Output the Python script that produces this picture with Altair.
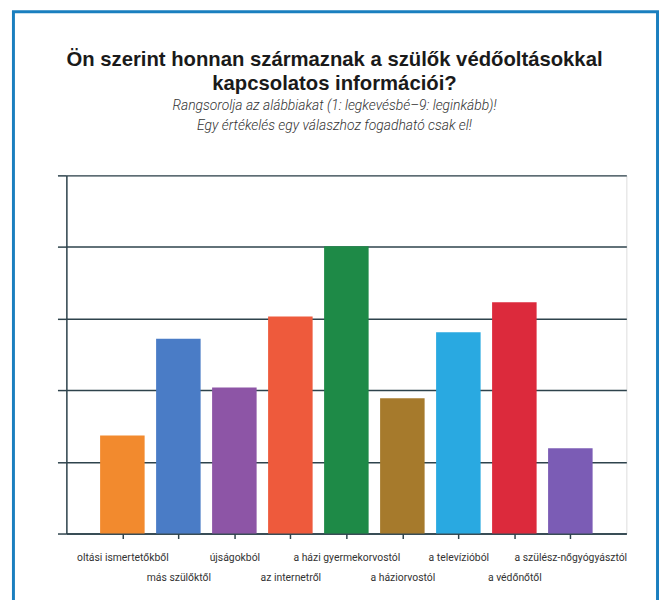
import altair as alt
import pandas as pd

categories = [
    "oltási ismertetőkből",
    "más szülőktől",
    "újságokból",
    "az internetről",
    "a házi gyermekorvostól",
    "a háziorvostól",
    "a televízióból",
    "a védőnőtől",
    "a szülész-nőgyógyásztól",
]
values = [1.37, 2.72, 2.04, 3.03, 4.01, 1.89, 2.81, 3.23, 1.19]
colors = ["#f28a2e", "#4a7cc6", "#8d55a6", "#ee5a3c", "#1e8a47",
          "#a67a2c", "#29a9e1", "#dc2a3c", "#7b5cb5"]
y_ticks = [0, 1, 2, 3, 4, 5]

title_lines = ["Ön szerint honnan származnak a szülők védőoltásokkal",
               "kapcsolatos információi?"]
subtitle_lines = ["Rangsorolja az alábbiakat (1: legkevésbé–9: leginkább)!",
                  "Egy értékelés egy válaszhoz fogadható csak el!"]

df = pd.DataFrame({"cat": categories, "value": values})

dark = "#2e434c"

bars = alt.Chart(df).mark_bar(size=45).encode(
    x=alt.X("cat:N", sort=categories,
            scale=alt.Scale(type="point", padding=1),
            axis=alt.Axis(title=None, labelAngle=0, grid=False,
                          labelExpr="round(datum.index*8) % 2 == 1 ? ['', datum.label] : datum.label",
                          labelLineHeight=20, labelFont="Roboto", labelFontSize=10.5,
                          labelColor="#333333", labelOverlap=False, labelBound=False,
                          labelPadding=14, tickSize=5, tickColor=dark, tickWidth=1.5,
                          domainColor=dark, domainWidth=1.5)),
    y=alt.Y("value:Q", scale=alt.Scale(domain=[0, 5]),
            axis=alt.Axis(title=None, labels=False, values=y_ticks, grid=True,
                          gridColor=dark, gridWidth=1.5, gridOpacity=1,
                          tickSize=9, tickColor=dark, tickWidth=1.5,
                          domainColor=dark, domainWidth=1.5)),
    color=alt.Color("cat:N", sort=categories,
                    scale=alt.Scale(domain=categories, range=colors), legend=None),
)

frame = alt.Chart(pd.DataFrame({"a": [0]})).mark_rect(
    fill="transparent", stroke="#1a7fbf", strokeWidth=3
).encode(
    x=alt.value(-53.5), x2=alt.value(597.5),
    y=alt.value(-165.5), y2=alt.value(620),
)

chart = alt.layer(bars, frame).properties(
    width=566, height=362,
    padding={"left": 59, "top": 166, "right": 33, "bottom": 64},
    autosize=alt.AutoSizeParams(type="none"),
    title=alt.TitleParams(
        text=title_lines, subtitle=subtitle_lines,
        font="Liberation Sans", fontSize=20.5, fontWeight="bold", color="#1a1a1a",
        lineHeight=24,
        subtitleFont="Roboto", subtitleFontStyle="italic", subtitleFontWeight=300,
        subtitleFontSize=14, subtitleLineHeight=20, subtitleColor="#333333",
        subtitlePadding=5,
        anchor="middle", frame="group", dx=-12, offset=-124,
    ),
).configure_view(stroke="transparent").configure(background="white")

chart.save("out.html", embed_options={"renderer": "svg", "actions": False})
